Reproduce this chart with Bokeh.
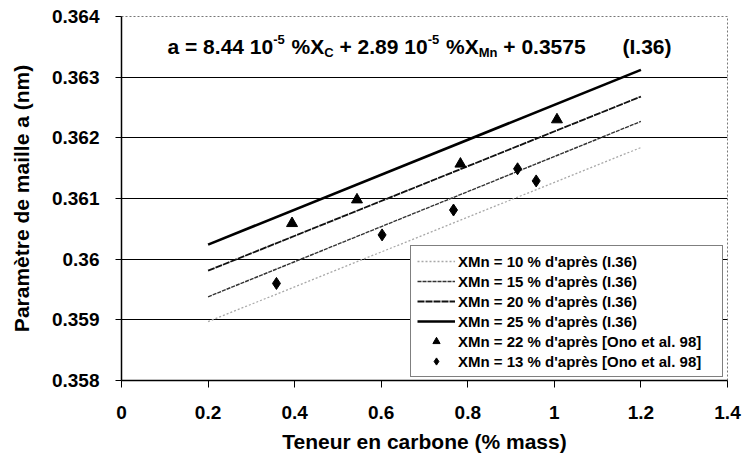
from bokeh.plotting import figure
from bokeh.models import (Range1d, FixedTicker, NumeralTickFormatter, Legend, LegendItem,
                          ColumnDataSource)
from bokeh.core.properties import value
from bokeh.embed import file_html
from bokeh.resources import INLINE

# ---------------- data ----------------
line_x = [0.2, 1.2]
a_mn10 = [0.35897, 0.36184]
a_mn15 = [0.35938, 0.36227]
a_mn20 = [0.35981, 0.36268]
a_mn25 = [0.36024, 0.36312]

ono22_x = [0.394, 0.544, 0.783, 1.006]
ono22_y = [0.36059, 0.36098, 0.36157, 0.36230]

ono13_x = [0.358, 0.602, 0.767, 0.915, 0.958]
ono13_y = [0.35960, 0.36040, 0.36081, 0.36149, 0.36129]

x_ticks = [0, 0.2, 0.4, 0.6, 0.8, 1.0, 1.2, 1.4]
y_ticks = [0.358, 0.359, 0.360, 0.361, 0.362, 0.363, 0.364]

labels = ["XMn = 10 % d'après (I.36)",
          "XMn = 15 % d'après (I.36)",
          "XMn = 20 % d'après (I.36)",
          "XMn = 25 % d'après (I.36)",
          "XMn = 22 % d'après [Ono et al. 98]",
          "XMn = 13 % d'après [Ono et al. 98]"]

FONT = "Liberation Sans"

p = figure(width=742, height=459, x_range=Range1d(0, 1.4), y_range=Range1d(0.358, 0.364),
           output_backend="svg", toolbar_location=None,
           min_border_left=121, min_border_right=15, min_border_top=16, min_border_bottom=79)
p.background_fill_color = "white"
p.border_fill_color = "white"
p.outline_line_color = "#777777"
p.outline_line_dash = "2 2"
p.outline_line_width = 1

# axes
p.xaxis.ticker = FixedTicker(ticks=x_ticks)
p.yaxis.ticker = FixedTicker(ticks=y_ticks)
p.xaxis.formatter = NumeralTickFormatter(format="0.[000]")
p.yaxis.formatter = NumeralTickFormatter(format="0.[000]")
for ax in (p.xaxis[0], p.yaxis[0]):
    ax.major_label_text_font = FONT
    ax.major_label_text_font_style = "bold"
    ax.major_label_text_font_size = "19px"
    ax.major_label_text_color = "black"
    ax.axis_label_text_font = FONT
    ax.axis_label_text_font_style = "bold"
    ax.axis_label_text_font_size = "21px"
    ax.axis_label_text_color = "black"
    ax.axis_line_color = "black"
    ax.axis_line_width = 1.5
    ax.major_tick_line_color = "black"
    ax.major_tick_in = 0
    ax.minor_tick_line_color = None
p.xaxis.major_tick_out = 7
p.yaxis.major_tick_out = 6
p.xaxis.major_label_standoff = 18
p.yaxis.major_label_standoff = 16
p.xaxis.axis_label = "Teneur en carbone (% mass)"
p.yaxis.axis_label = "Paramètre de maille a (nm)"
p.xaxis.axis_label_standoff = 8
p.yaxis.axis_label_standoff = 16

p.xgrid.grid_line_color = None
p.ygrid.ticker = FixedTicker(ticks=y_ticks[1:-1])
p.ygrid.grid_line_color = "black"
p.ygrid.grid_line_width = 1

# lines
r10 = p.line(line_x, a_mn10, line_color="#a8a8a8", line_width=1.3, line_dash="2 2")
r15 = p.line(line_x, a_mn15, line_color="#333333", line_width=1.4, line_dash="4 1")
r20 = p.line(line_x, a_mn20, line_color="#111111", line_width=1.8, line_dash="7 1")
r25 = p.line(line_x, a_mn25, line_color="black", line_width=2.6)
r22 = p.scatter(ono22_x, ono22_y, marker="triangle", size=11, fill_color="black", line_color="black")
r13 = p.scatter(ono13_x, ono13_y, marker="diamond", size=12, fill_color="black", line_color="black")

# equation (composed pieces)
W = {'a': 556, ' ': 278, '=': 584, '8': 556, '.': 278, '4': 556, '1': 556, '0': 556, '-': 333,
     '5': 556, '%': 889, 'X': 667, 'C': 722, '+': 584, '2': 556, '9': 556, 'M': 833, 'n': 611,
     '3': 556, '7': 556, '(': 333, 'I': 278, '6': 556, ')': 333}
parts = [("a = 8.44 10", "n"), ("-5", "sup"), (" %X", "n"), ("C", "sub"),
         (" + 2.89 10", "n"), ("-5", "sup"), (" %X", "n"), ("Mn", "sub"), (" + 0.3575", "n")]
F_MAIN, F_SMALL = 21, 13
cur = 46.0
ts, xo, yo, fs = [], [], [], []
for txt, kind in parts:
    size = F_MAIN if kind == "n" else F_SMALL
    stripped = txt.lstrip(" ")
    cur += (len(txt) - len(stripped)) * W[' '] / 1000 * size
    ts.append(stripped)
    xo.append(cur)
    yo.append({"n": 0, "sup": -7, "sub": 6}[kind])
    fs.append(f"{size}px")
    cur += sum(W[c] for c in stripped) / 1000 * size + (1 if kind == "sup" else 0)
ts.append("(I.36)"); xo.append(501.0); yo.append(0); fs.append(f"{F_MAIN}px")
src = ColumnDataSource(dict(x=[0.0] * len(ts), y=[0.3635] * len(ts), t=ts, xo=xo, yo=yo, fs=fs))
p.text(x="x", y="y", text="t", x_offset="xo", y_offset="yo", text_font_size="fs",
       source=src, text_font=value(FONT), text_font_style="bold", text_baseline="middle",
       text_align="left", text_color="black")

legend = Legend(items=[LegendItem(label=labels[0], renderers=[r10]),
                       LegendItem(label=labels[1], renderers=[r15]),
                       LegendItem(label=labels[2], renderers=[r20]),
                       LegendItem(label=labels[3], renderers=[r25]),
                       LegendItem(label=labels[4], renderers=[r22]),
                       LegendItem(label=labels[5], renderers=[r13])],
                location=(289, 3))
legend.label_text_font = FONT
legend.label_text_font_style = "bold"
legend.label_text_font_size = "15px"
legend.label_text_color = "black"
legend.label_standoff = 3
legend.glyph_width = 38
legend.glyph_height = 18
legend.label_height = 18
legend.label_width = 258
legend.spacing = 2
legend.padding = 6
legend.margin = 0
legend.border_line_color = "black"
legend.border_line_width = 1
legend.background_fill_color = "white"
legend.background_fill_alpha = 1
p.add_layout(legend)

open("out.html", "w").write(file_html(p, INLINE))
